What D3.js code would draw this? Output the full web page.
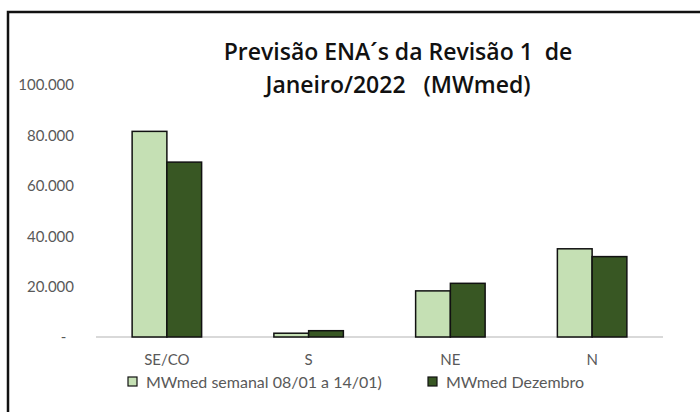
<!DOCTYPE html>
<html>
    <head>
        <meta charset="utf-8">
        <title>Previsão ENA</title>
        <script src="https://d3js.org/d3.v7.min.js" charset="utf-8"></script>
        <style>
            body { margin: 0; background: #fff; }
            text { font-family: Lato, "Open Sans", sans-serif; }
        </style>
    </head>
    <body>
        <script>
            // dados
            var categorias = ["SE/CO", "S", "NE", "N"];
            var series = ["MWmed semanal 08/01 a 14/01)", "MWmed Dezembro"];
            var semanal = [81600, 1500, 18300, 35000];
            var dezembro = [69400, 2500, 21300, 31900];
            var yTicks = [0, 20000, 40000, 60000, 80000, 100000];
            var tituloLinhas = ["Previsão ENA´s da Revisão 1  de", "Janeiro/2022   (MWmed)"];

            var cores = ["#c5e0b4", "#385723"];

            var data = categorias.map(function(c, i) {
                return {cat: c, valores: [semanal[i], dezembro[i]]};
            });

            var svg = d3.select("body")
                    .append("svg")
                    .attr("width", 700)
                    .attr("height", 412);

            // moldura
            svg.append("path")
                .attr("d", "M8,412 V12 H700")
                .attr("fill", "none")
                .attr("stroke", "#111")
                .attr("stroke-width", 2.5);

            var x0 = d3.scaleBand().domain(categorias).range([96, 663]);
            var x1 = d3.scaleBand().domain([0, 1]).range([0, x0.bandwidth()])
                        .paddingInner(0).paddingOuter(1.04);
            var y = d3.scaleLinear().domain([0, 100000]).range([337, 85]);

            var loc = d3.formatLocale({decimal: ",", thousands: ".", grouping: [3], currency: ["", ""]});
            var fmt = loc.format(",.0f");

            var yAxis = svg.append("g")
                    .attr("transform", "translate(96,0)")
                    .call(d3.axisLeft(y).tickValues(yTicks).tickSize(0).tickPadding(22)
                        .tickFormat(function(d) { return d === 0 ? "-  " : fmt(d); }));
            yAxis.select(".domain").remove();
            yAxis.selectAll("text")
                .attr("fill", "#595959")
                .style("font-size", "15px")
                .style("font-family", "Lato, sans-serif")
                .style("white-space", "pre");

            // linha base
            svg.append("line")
                .attr("x1", 96).attr("x2", 663)
                .attr("y1", y(0)).attr("y2", y(0))
                .attr("stroke", "#d9d9d9")
                .attr("stroke-width", 2);

            var grupos = svg.selectAll("g.cat")
                    .data(data)
                    .enter()
                .append("g")
                    .attr("class", "cat")
                    .attr("transform", function(d) { return "translate(" + x0(d.cat) + ",0)"; });

            grupos.selectAll("rect")
                    .data(function(d) { return d.valores; })
                    .enter()
                .append("rect")
                    .attr("x", function(d, i) { return x1(i); })
                    .attr("y", function(d) { return y(d); })
                    .attr("width", x1.bandwidth())
                    .attr("height", function(d) { return y(0) - y(d); })
                    .attr("fill", function(d, i) { return cores[i]; })
                    .attr("stroke", "#111")
                    .attr("stroke-width", 1.5);

            // rótulos das categorias
            svg.selectAll("text.cat")
                    .data(categorias)
                    .enter()
                .append("text")
                    .attr("class", "cat")
                    .attr("x", function(d) { return x0(d) + x0.bandwidth() / 2; })
                    .attr("y", 365)
                    .attr("text-anchor", "middle")
                    .attr("fill", "#595959")
                    .style("font-size", "15px")
                    .text(function(d) { return d; });

            // título
            svg.selectAll("text.titulo")
                    .data(tituloLinhas)
                    .enter()
                .append("text")
                    .attr("class", "titulo")
                    .attr("x", 398)
                    .attr("y", function(d, i) { return 60 + i * 33; })
                    .attr("text-anchor", "middle")
                    .attr("fill", "#111")
                    .style("font-family", "'Open Sans', sans-serif")
                    .style("font-size", "23px")
                    .style("font-weight", "600")
                    .style("white-space", "pre")
                    .text(function(d) { return d; });

            // legenda
            var legX = [128, 428];
            var leg = svg.selectAll("g.leg")
                    .data(series)
                    .enter()
                .append("g")
                    .attr("class", "leg")
                    .attr("transform", function(d, i) { return "translate(" + legX[i] + ",382)"; });
            leg.append("rect")
                .attr("x", 0).attr("y", -5)
                .attr("width", 9).attr("height", 9)
                .attr("fill", function(d, i) { return cores[i]; })
                .attr("stroke", "#111")
                .attr("stroke-width", 1.2);
            leg.append("text")
                .attr("x", 18)
                .attr("y", 5.5)
                .attr("fill", "#595959")
                .style("font-size", "16px")
                .text(function(d) { return d; });
        </script>
    </body>
</html>
